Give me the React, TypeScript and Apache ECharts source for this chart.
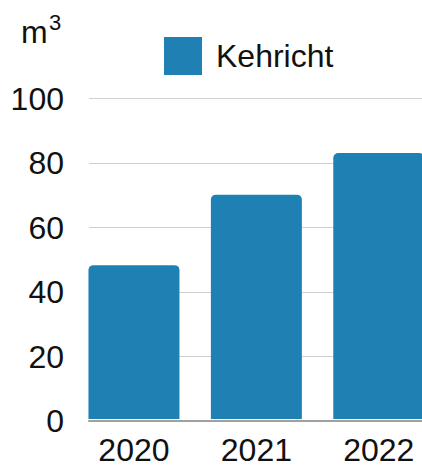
import React, { useEffect, useRef } from "react";
import * as echarts from "echarts";

const years = ["2020", "2021", "2022"];
const kehricht = [48, 70, 83];
const yTicks = [0, 20, 40, 60, 80, 100];
const seriesName = "Kehricht";
const unit = "m";
const unitSup = "3";

const FONT = "Liberation Sans";
const FS = 32;
const BLUE = "#1f80b4";
const INK = "#111";
const W = 422;
const H = 466;
const CW = 440; // canvas wider than the page so the last bar runs off the edge

export default function App() {
  const ref = useRef<HTMLDivElement>(null);
  useEffect(() => {
    if (!ref.current) return;
    const chart = echarts.init(ref.current, null, { renderer: "svg" });
    const yMax = yTicks[yTicks.length - 1];
    const yInterval = yTicks[1] - yTicks[0];
    chart.setOption({
      animation: false,
      textStyle: { fontFamily: FONT },
      grid: [
        { left: 89, right: CW - W, top: 98.5, bottom: 45 },
        { left: 72.75, right: 0, top: 98.5, bottom: 45 },
      ],
      legend: {
        data: [seriesName],
        left: 159,
        top: 32,
        itemWidth: 38,
        itemHeight: 38,
        icon: "rect",
        textStyle: { fontSize: FS, color: INK, fontFamily: FONT, padding: [0, 0, 0, 9] },
      },
      xAxis: [
        {
          type: "category",
          gridIndex: 0,
          data: years,
          axisLine: { show: true, lineStyle: { color: "#a0a0a0", width: 2 } },
          axisTick: { show: false },
          axisLabel: { show: false },
        },
        {
          type: "category",
          gridIndex: 1,
          data: years,
          axisLine: { show: false },
          axisTick: { show: false },
          axisLabel: { fontSize: FS, color: INK, margin: 19, lineHeight: 24, fontFamily: FONT },
        },
      ],
      yAxis: [
        {
          type: "value",
          gridIndex: 0,
          min: 0,
          max: yMax,
          interval: yInterval,
          axisLabel: { fontSize: FS, color: INK, margin: 25, fontFamily: FONT },
          splitLine: { lineStyle: { color: "#d0d0d0", width: 1 } },
          axisLine: { show: false },
          axisTick: { show: false },
        },
        {
          type: "value",
          gridIndex: 1,
          min: 0,
          max: yMax,
          interval: yInterval,
          show: false,
          splitLine: { show: false },
        },
      ],
      series: [
        {
          name: seriesName,
          type: "bar",
          xAxisIndex: 1,
          yAxisIndex: 1,
          data: kehricht,
          barWidth: 91,
          itemStyle: { color: BLUE, borderRadius: [5, 5, 0, 0] },
        },
      ],
      graphic: [
        {
          type: "text",
          left: 21,
          top: 16,
          style: { text: unit, fontSize: FS, fontFamily: FONT, fill: INK },
        },
        {
          type: "text",
          left: 49,
          top: 11,
          style: { text: unitSup, fontSize: 22, fontFamily: FONT, fill: INK },
        },
      ],
    });
    return () => chart.dispose();
  }, []);
  return (
    <div style={{ position: "absolute", left: 0, top: 0, width: W, height: H, overflow: "hidden" }}>
      <div ref={ref} style={{ width: CW, height: H }} />
    </div>
  );
}
